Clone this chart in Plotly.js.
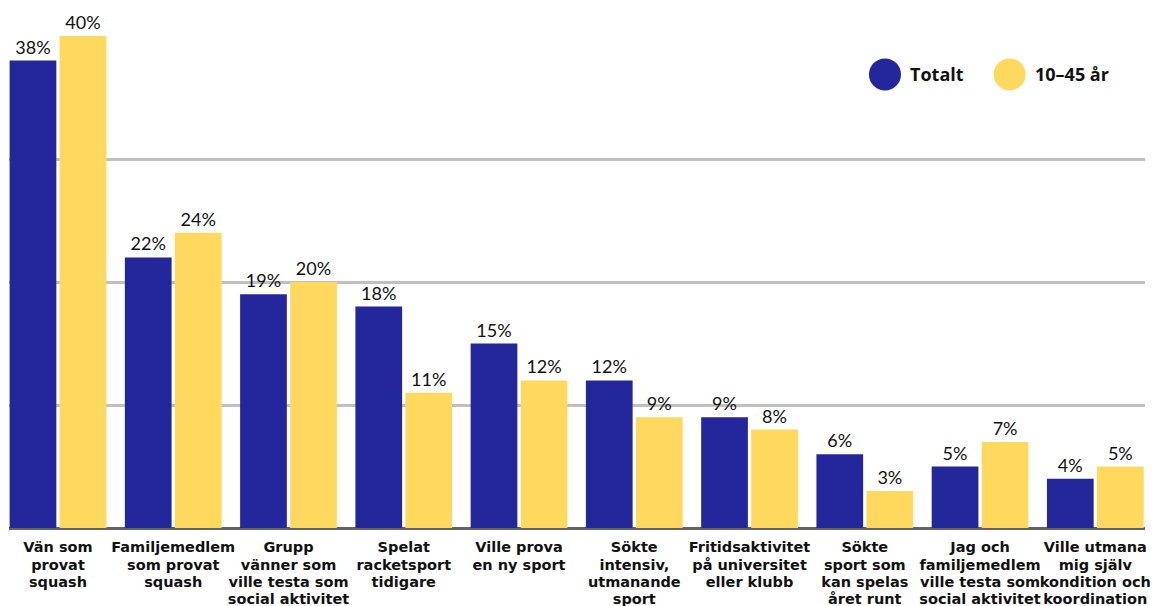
<!DOCTYPE html>
<html>
<head>
<meta charset="utf-8">
<script src="https://cdn.plot.ly/plotly-3.0.1.min.js"></script>
<style>
  html, body { margin: 0; padding: 0; background: #ffffff; }
  #chart { width: 1170px; height: 606px; }
</style>
</head>
<body>
<div id="chart"></div>
<script>
const categoryLines = [
  ["Vän som", "provat", "squash"],
  ["Familjemedlem", "som provat", "squash"],
  ["Grupp", "vänner som", "ville testa som", "social aktivitet"],
  ["Spelat", "racketsport", "tidigare"],
  ["Ville prova", "en ny sport"],
  ["Sökte", "intensiv,", "utmanande", "sport"],
  ["Fritidsaktivitet", "på universitet", "eller klubb"],
  ["Sökte", "sport som", "kan spelas", "året runt"],
  ["Jag och", "familjemedlem", "ville testa som", "social aktivitet"],
  ["Ville utmana", "mig själv", "kondition och", "koordination"]
];
const seriesNames = ["Totalt", "10–45 år"];
const totalt = [38, 22, 19, 18, 15, 12, 9, 6, 5, 4];
const age10to45 = [40, 24, 20, 11, 12, 9, 8, 3, 7, 5];
const colors = ["#24279B", "#FFD95D"];

const categories = categoryLines.map(l => l.join(" "));
const tickText = categoryLines.map(l =>
  l.map(s => "<span style='font-size:14.5px'>" + s + "</span>").join("<br>")
);

const valueFont = { family: "Lato, 'Open Sans', sans-serif", size: 18, color: "#111111" };

const traces = [totalt, age10to45].map((vals, i) => ({
  type: "bar",
  name: seriesNames[i],
  x: categories,
  y: vals,
  marker: { color: colors[i] },
  texttemplate: "%{y}%",
  textposition: "outside",
  textfont: valueFont,
  cliponaxis: false,
  showlegend: false,
  hoverinfo: "none"
}));

// custom legend (circles + bold labels), drawn in paper space
const legendX = [0.7711, 0.8809];
const legendTextX = [0.7915, 0.9015];
const legendY = 0.922;
const shapes = seriesNames.map((n, i) => ({
  type: "circle",
  xref: "paper", yref: "paper",
  xsizemode: "pixel", ysizemode: "pixel",
  xanchor: legendX[i], yanchor: legendY,
  x0: -16, x1: 16, y0: -16, y1: 16,
  fillcolor: colors[i],
  line: { width: 0 }
}));
const annotations = seriesNames.map((n, i) => ({
  xref: "paper", yref: "paper",
  x: legendTextX[i], y: legendY,
  xanchor: "left", yanchor: "middle",
  text: "<b>" + n + "</b>",
  showarrow: false,
  font: { family: "'Open Sans', sans-serif", size: 18, color: "#111111" }
}));

const layout = {
  width: 1170,
  height: 606,
  margin: { l: 9, r: 25, t: 36, b: 78, pad: 0 },
  paper_bgcolor: "#ffffff",
  plot_bgcolor: "#ffffff",
  barmode: "group",
  bargap: 0.132,
  bargroupgap: 0.066,
  showlegend: false,
  xaxis: {
    type: "category",
    range: [-0.425, 9.431],
    tickmode: "array",
    tickvals: categories,
    ticktext: tickText,
    tickangle: 0,
    showgrid: false,
    zeroline: false,
    showline: false,
    ticks: "",
    ticklabelstandoff: 10,
    tickfont: { family: "'DejaVu Sans', sans-serif", size: 13.3, color: "#111111", weight: "bold" },
    fixedrange: true
  },
  yaxis: {
    range: [0, 40],
    dtick: 10,
    showticklabels: false,
    showgrid: true,
    gridcolor: "#C0C0C0",
    gridwidth: 3,
    zeroline: true,
    zerolinecolor: "#646464",
    zerolinewidth: 3,
    ticks: "",
    fixedrange: true
  },
  shapes: shapes,
  annotations: annotations
};

Plotly.newPlot("chart", traces, layout, { staticPlot: true, displayModeBar: false });
</script>
</body>
</html>
